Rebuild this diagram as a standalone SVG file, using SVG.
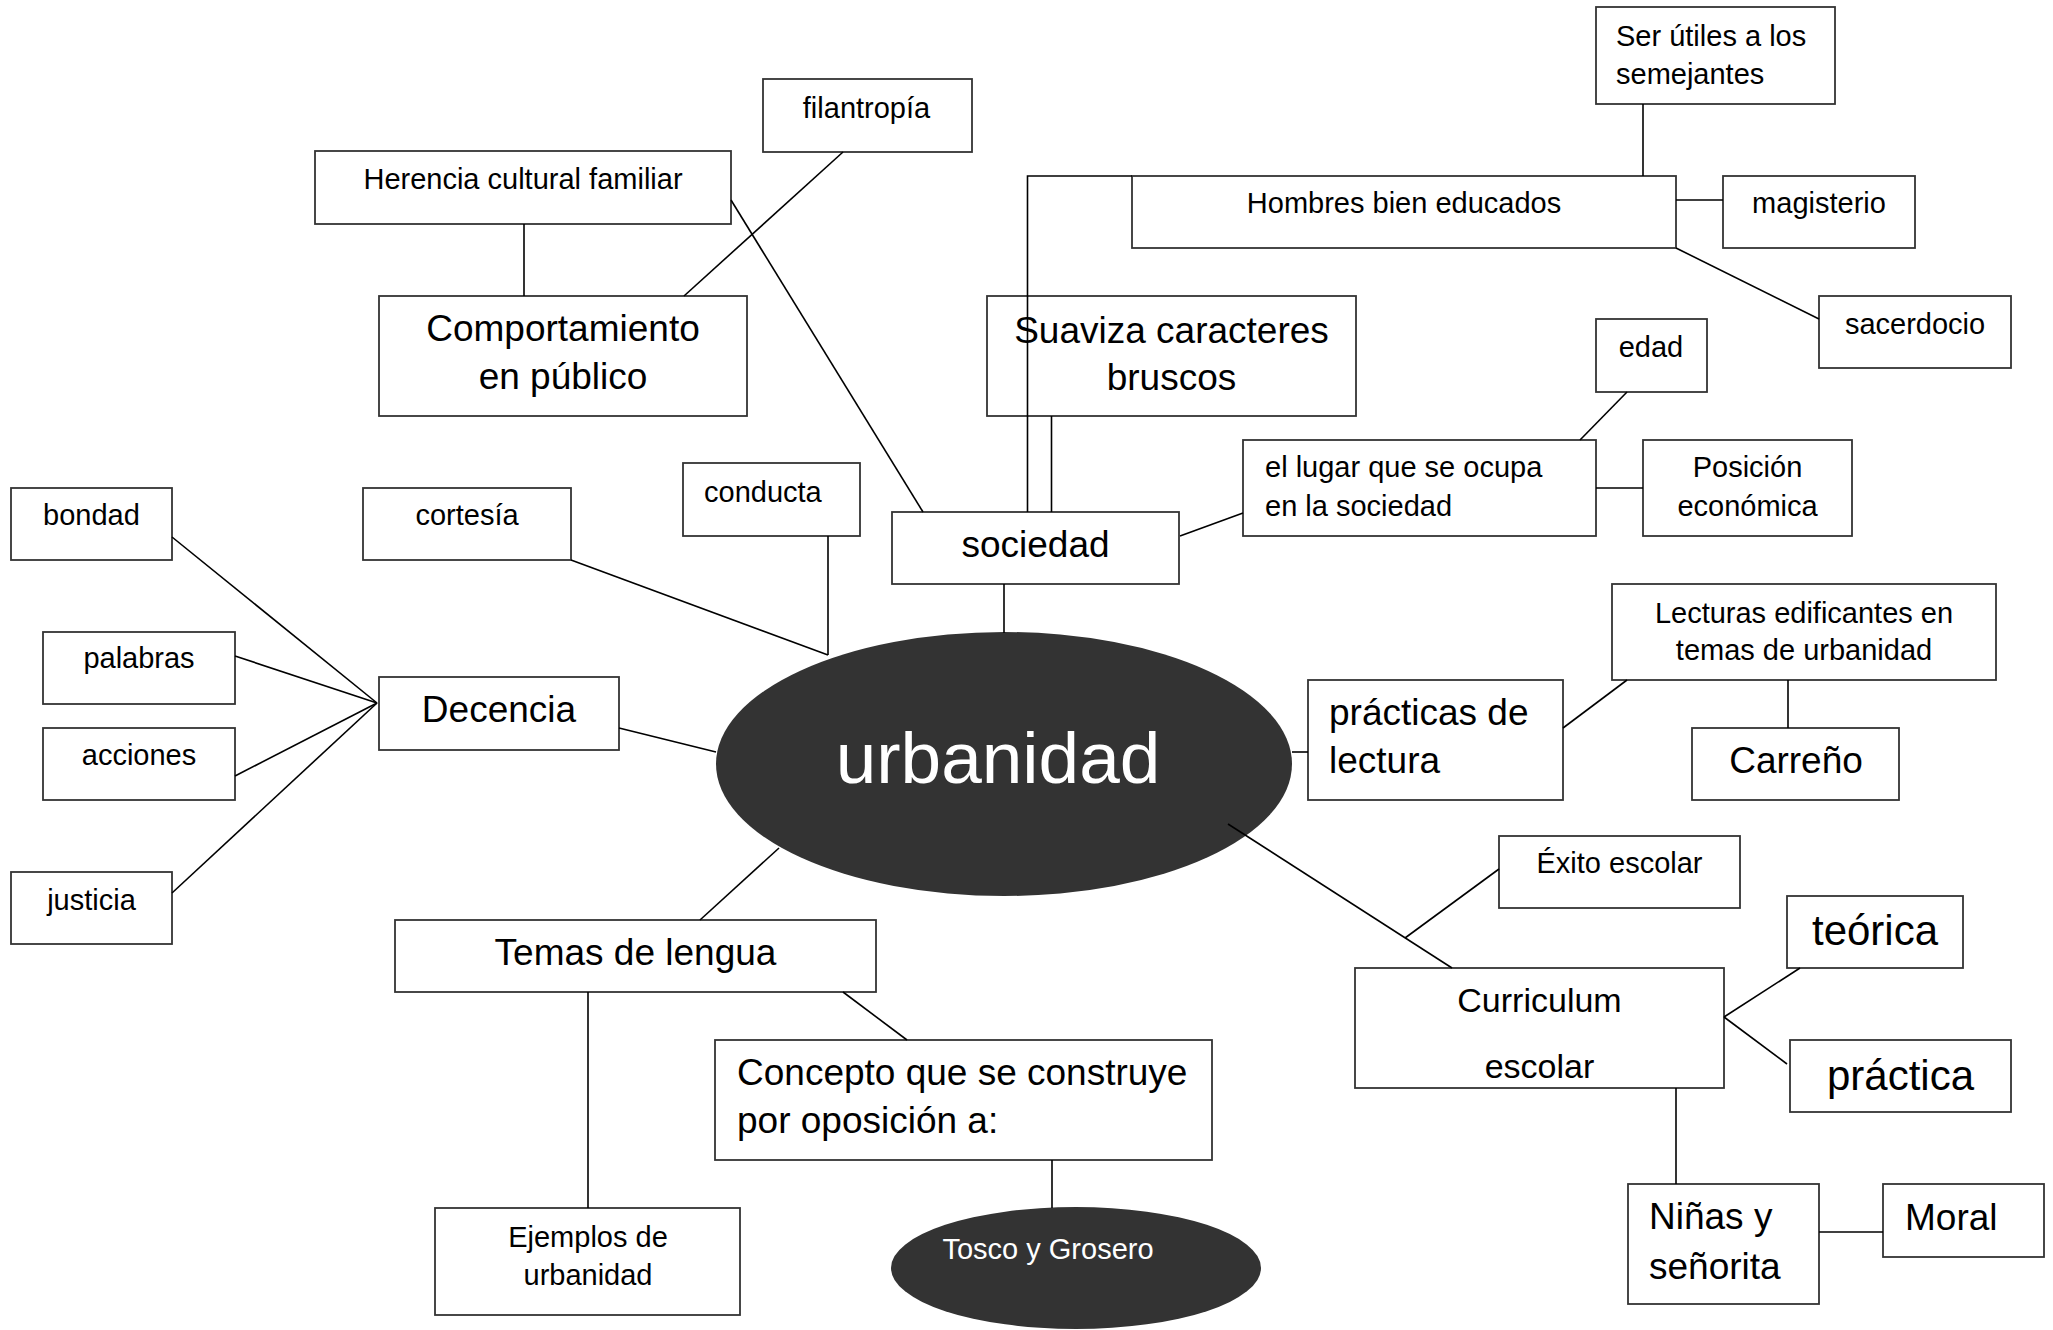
<svg xmlns="http://www.w3.org/2000/svg" width="2053" height="1330" viewBox="0 0 2053 1330">
<style>
  .box { fill: #ffffff; stroke: #333333; stroke-width: 1.8; }
  .oval { fill: #333333; stroke: none; }
  text { font-family: "Liberation Sans", Arial, sans-serif; fill: #000000; }
  .s { font-size: 29px; }
  .m { font-size: 34px; }
  .l { font-size: 37px; }
  .xl { font-size: 42px; }
  .c { text-anchor: middle; }
  .w { fill: #ffffff; }
  .conn line, .conn polyline { stroke: #000000; stroke-width: 1.6; fill: none; }
</style>
<rect width="2053" height="1330" fill="#ffffff"/>

<g id="node-urbanidad">
  <ellipse class="oval" cx="1004" cy="764" rx="288" ry="132"/>
  <text class="c w" x="998" y="783" style="font-size:73px">urbanidad</text>
</g>
<g id="node-tosco">
  <ellipse class="oval" cx="1076" cy="1268" rx="185" ry="61"/>
  <text class="s c w" x="1048" y="1259">Tosco y Grosero</text>
</g>

<g id="node-filantropia">
  <rect class="box" x="763" y="79" width="209" height="73"/>
  <text class="s c" x="866.5" y="118">filantropía</text>
</g>
<g id="node-herencia">
  <rect class="box" x="315" y="151" width="416" height="73"/>
  <text class="s c" x="523" y="189">Herencia cultural familiar</text>
</g>
<g id="node-comportamiento">
  <rect class="box" x="379" y="296" width="368" height="120"/>
  <text class="l c" x="563" y="341">Comportamiento</text>
  <text class="l c" x="563" y="389">en público</text>
</g>
<g id="node-ser-utiles">
  <rect class="box" x="1596" y="7" width="239" height="97"/>
  <text class="s" x="1616" y="46">Ser útiles a los</text>
  <text class="s" x="1616" y="84">semejantes</text>
</g>
<g id="node-hombres">
  <rect class="box" x="1132" y="176" width="544" height="72"/>
  <text class="s c" x="1404" y="213">Hombres bien educados</text>
</g>
<g id="node-magisterio">
  <rect class="box" x="1723" y="176" width="192" height="72"/>
  <text class="s c" x="1819" y="213">magisterio</text>
</g>
<g id="node-sacerdocio">
  <rect class="box" x="1819" y="296" width="192" height="72"/>
  <text class="s c" x="1915" y="334">sacerdocio</text>
</g>
<g id="node-suaviza">
  <rect class="box" x="987" y="296" width="369" height="120"/>
  <text class="l c" x="1171.5" y="343">Suaviza caracteres</text>
  <text class="l c" x="1171.5" y="390">bruscos</text>
</g>
<g id="node-edad">
  <rect class="box" x="1596" y="319" width="111" height="73"/>
  <text class="s c" x="1651" y="357">edad</text>
</g>
<g id="node-lugar">
  <rect class="box" x="1243" y="440" width="353" height="96"/>
  <text class="s" x="1265" y="477">el lugar que se ocupa</text>
  <text class="s" x="1265" y="516">en la sociedad</text>
</g>
<g id="node-posicion">
  <rect class="box" x="1643" y="440" width="209" height="96"/>
  <text class="s c" x="1747.5" y="477">Posición</text>
  <text class="s c" x="1747.5" y="516">económica</text>
</g>
<g id="node-sociedad">
  <rect class="box" x="892" y="512" width="287" height="72"/>
  <text class="l c" x="1035.5" y="557">sociedad</text>
</g>
<g id="node-bondad">
  <rect class="box" x="11" y="488" width="161" height="72"/>
  <text class="s c" x="91.5" y="525">bondad</text>
</g>
<g id="node-cortesia">
  <rect class="box" x="363" y="488" width="208" height="72"/>
  <text class="s c" x="467" y="525">cortesía</text>
</g>
<g id="node-conducta">
  <rect class="box" x="683" y="463" width="177" height="73"/>
  <text class="s" x="704" y="502">conducta</text>
</g>
<g id="node-palabras">
  <rect class="box" x="43" y="632" width="192" height="72"/>
  <text class="s c" x="139" y="668">palabras</text>
</g>
<g id="node-acciones">
  <rect class="box" x="43" y="728" width="192" height="72"/>
  <text class="s c" x="139" y="765">acciones</text>
</g>
<g id="node-decencia">
  <rect class="box" x="379" y="677" width="240" height="73"/>
  <text class="l c" x="499" y="722">Decencia</text>
</g>
<g id="node-justicia">
  <rect class="box" x="11" y="872" width="161" height="72"/>
  <text class="s c" x="91.5" y="910">justicia</text>
</g>
<g id="node-lecturas">
  <rect class="box" x="1612" y="584" width="384" height="96"/>
  <text class="s c" x="1804" y="623">Lecturas edificantes en</text>
  <text class="s c" x="1804" y="660">temas de urbanidad</text>
</g>
<g id="node-practicas-lectura">
  <rect class="box" x="1308" y="680" width="255" height="120"/>
  <text class="l" x="1329" y="725">prácticas de</text>
  <text class="l" x="1329" y="773">lectura</text>
</g>
<g id="node-carreno">
  <rect class="box" x="1692" y="728" width="207" height="72"/>
  <text class="l c" x="1796" y="773">Carreño</text>
</g>
<g id="node-exito">
  <rect class="box" x="1499" y="836" width="241" height="72"/>
  <text class="s c" x="1619.5" y="873">Éxito escolar</text>
</g>
<g id="node-teorica">
  <rect class="box" x="1787" y="896" width="176" height="72"/>
  <text class="xl c" x="1875" y="945">teórica</text>
</g>
<g id="node-curriculum">
  <rect class="box" x="1355" y="968" width="369" height="120"/>
  <text class="m c" x="1539.5" y="1012">Curriculum</text>
  <text class="m c" x="1539.5" y="1078">escolar</text>
</g>
<g id="node-practica">
  <rect class="box" x="1790" y="1040" width="221" height="72"/>
  <text class="xl c" x="1900.5" y="1090">práctica</text>
</g>
<g id="node-ninas">
  <rect class="box" x="1628" y="1184" width="191" height="120"/>
  <text class="l" x="1649" y="1229">Niñas y</text>
  <text class="l" x="1649" y="1279">señorita</text>
</g>
<g id="node-moral">
  <rect class="box" x="1883" y="1184" width="161" height="73"/>
  <text class="l" x="1905" y="1230">Moral</text>
</g>
<g id="node-temas">
  <rect class="box" x="395" y="920" width="481" height="72"/>
  <text class="l c" x="635.5" y="965">Temas de lengua</text>
</g>
<g id="node-concepto">
  <rect class="box" x="715" y="1040" width="497" height="120"/>
  <text class="l" x="737" y="1085">Concepto que se construye</text>
  <text class="l" x="737" y="1133">por oposición a:</text>
</g>
<g id="node-ejemplos">
  <rect class="box" x="435" y="1208" width="305" height="107"/>
  <text class="s c" x="588" y="1247">Ejemplos de</text>
  <text class="s c" x="588" y="1285">urbanidad</text>
</g>

<g id="connectors" class="conn">
  <line x1="524" y1="224" x2="524" y2="296"/>
  <line x1="843" y1="152" x2="684" y2="296"/>
  <line x1="731" y1="200" x2="923" y2="512"/>
  <polyline points="1132,176 1027.5,176 1027.5,512"/>
  <line x1="1051.5" y1="416" x2="1051.5" y2="512"/>
  <line x1="1643" y1="104" x2="1643" y2="176"/>
  <line x1="1676" y1="200" x2="1723" y2="200"/>
  <line x1="1676" y1="248" x2="1819" y2="319"/>
  <line x1="1627" y1="392" x2="1580" y2="440"/>
  <line x1="1596" y1="488" x2="1643" y2="488"/>
  <line x1="1180" y1="536" x2="1243" y2="513"/>
  <line x1="1004" y1="584" x2="1004" y2="633"/>
  <line x1="571" y1="560" x2="828" y2="655"/>
  <line x1="828" y1="536" x2="828" y2="655"/>
  <line x1="172" y1="537" x2="377" y2="703"/>
  <line x1="235" y1="656" x2="377" y2="703"/>
  <line x1="235" y1="776" x2="377" y2="703"/>
  <line x1="172" y1="893" x2="377" y2="703"/>
  <line x1="619" y1="728" x2="716" y2="752"/>
  <line x1="779" y1="848" x2="700" y2="920"/>
  <line x1="588" y1="992" x2="588" y2="1208"/>
  <line x1="843" y1="992" x2="907" y2="1040"/>
  <line x1="1052" y1="1160" x2="1052" y2="1208"/>
  <line x1="1292" y1="752" x2="1308" y2="752"/>
  <line x1="1563" y1="728" x2="1627" y2="680"/>
  <line x1="1788" y1="680" x2="1788" y2="728"/>
  <line x1="1228" y1="824" x2="1452" y2="968"/>
  <line x1="1499" y1="869" x2="1405" y2="938"/>
  <line x1="1724" y1="1017" x2="1800" y2="968"/>
  <line x1="1724" y1="1017" x2="1787" y2="1064"/>
  <line x1="1676" y1="1088" x2="1676" y2="1184"/>
  <line x1="1819" y1="1232" x2="1883" y2="1232"/>
</g>
</svg>
